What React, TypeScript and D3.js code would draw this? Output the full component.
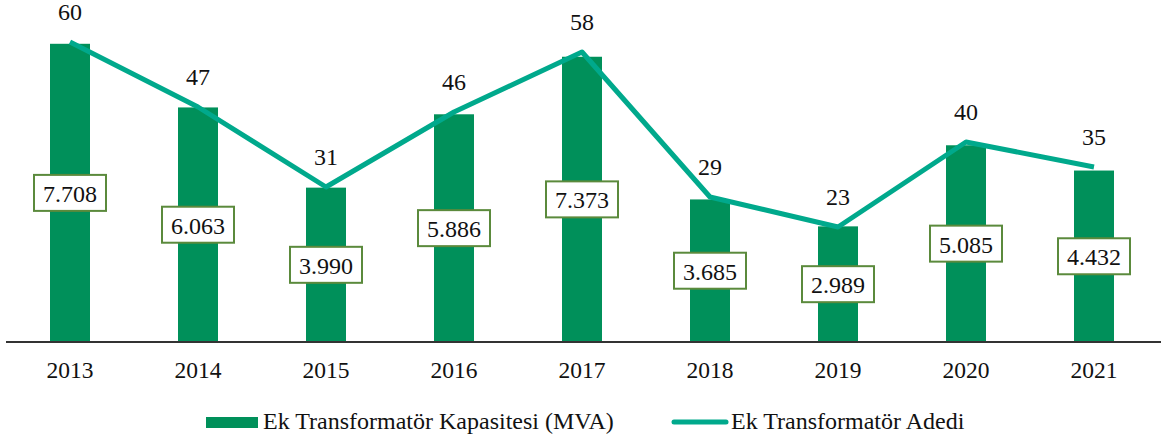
import React from 'react';
import * as d3 from 'd3';

const years = ['2013', '2014', '2015', '2016', '2017', '2018', '2019', '2020', '2021'];
const capacity = [7708, 6063, 3990, 5886, 7373, 3685, 2989, 5085, 4432];
const capacityLabels = ['7.708', '6.063', '3.990', '5.886', '7.373', '3.685', '2.989', '5.085', '4.432'];
const counts = [60, 47, 31, 46, 58, 29, 23, 40, 35];

const W = 1161;
const H = 441;
const baseY = 342;
const barColor = '#00905a';
const lineColor = '#00a98c';
const font = 'Liberation Serif';

const App: React.FC = () => {
  const x = d3.scaleBand<string>().domain(years).range([6, 1158]);
  const yBar = d3.scaleLinear().domain([0, 8840]).range([baseY, 0]);
  const yLine = d3.scaleLinear().domain([0, 60]).range([baseY, 42]);
  const cx = (y: string) => (x(y) ?? 0) + x.bandwidth() / 2;
  const barW = 40;

  const line = d3.line<number>()
    .x((_, i) => cx(years[i]))
    .y(d => yLine(d));

  const txt = { fontFamily: font };

  return (
    <svg width={W} height={H} style={{ position: 'absolute', left: 0, top: 0 }}>
      {years.map((yr, i) => (
        <rect key={yr} x={cx(yr) - barW / 2} y={yBar(capacity[i])} width={barW}
          height={baseY - yBar(capacity[i])} fill={barColor} />
      ))}
      <line x1={6} x2={W} y1={baseY} y2={baseY} stroke="#333" strokeWidth={2} />
      <path d={line(counts) ?? ''} fill="none" stroke={lineColor} strokeWidth={5} strokeLinejoin="round" />
      {years.map((yr, i) => {
        const mid = (yBar(capacity[i]) + baseY) / 2;
        return (
          <g key={'lab' + yr}>
            <rect x={cx(yr) - 36} y={mid - 18} width={72} height={36} fill="#fff" stroke="#5b8a3c" strokeWidth={2} />
            <text x={cx(yr)} y={mid + 9} textAnchor="middle" fontSize={24} fill="#111" style={txt}>{capacityLabels[i]}</text>
            <text x={cx(yr)} y={yLine(counts[i]) - 22} textAnchor="middle" fontSize={24} fill="#111" style={txt}>{counts[i]}</text>
            <text x={cx(yr)} y={378} textAnchor="middle" fontSize={23.5} fill="#111" style={txt}>{yr}</text>
          </g>
        );
      })}
      <rect x={206} y={417} width={52} height={11} fill={barColor} />
      <text x={263} y={429} fontSize={24} fill="#111" style={txt}>Ek Transformatör Kapasitesi (MVA)</text>
      <line x1={674} x2={726} y1={422} y2={422} stroke={lineColor} strokeWidth={5} strokeLinecap="round" />
      <text x={731} y={429} fontSize={24} fill="#111" style={txt}>Ek Transformatör Adedi</text>
    </svg>
  );
};

export default App;
